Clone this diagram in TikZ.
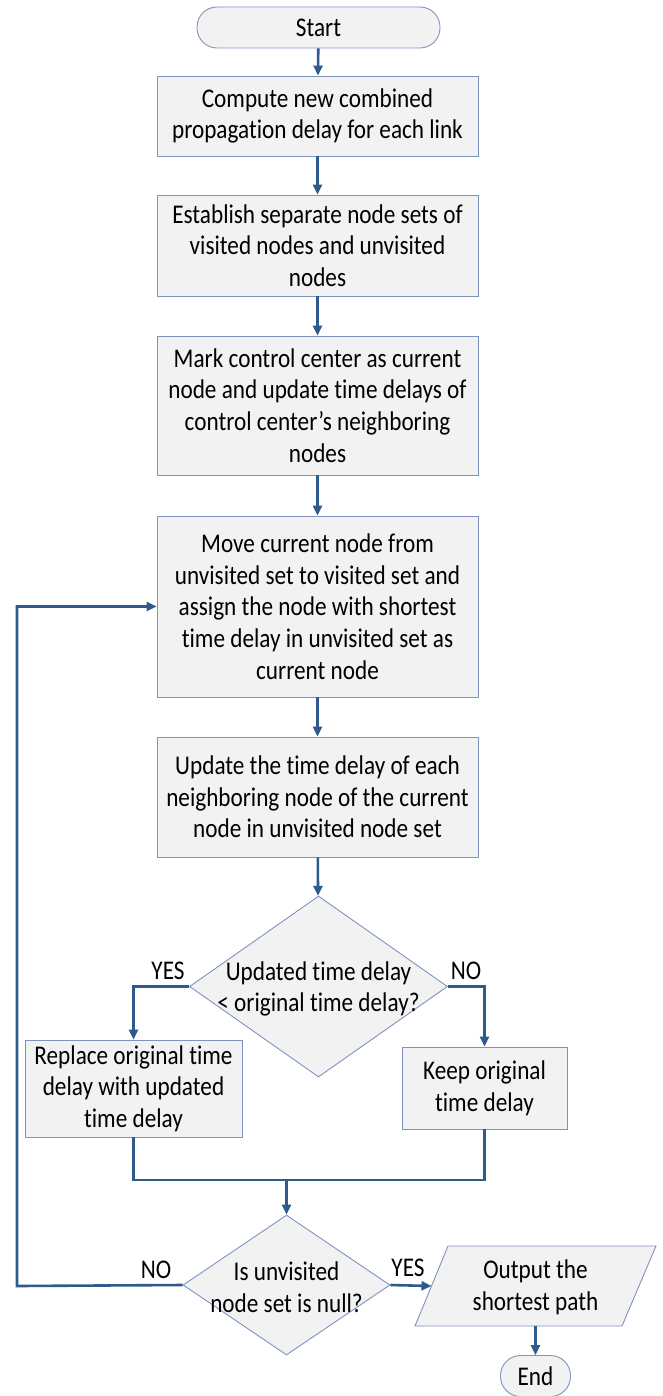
\documentclass[tikz,border=0pt]{standalone}
\usepackage{fontspec}
\setmainfont{Carlito}[FakeStretch=0.86, Ligatures=NoCommon]
\usetikzlibrary{shapes.geometric,arrows.meta}
\definecolor{boxfill}{HTML}{F2F2F2}
\definecolor{boxline}{HTML}{7F93BF}
\definecolor{flow}{HTML}{2E5B8C}
\begin{document}
\begin{tikzpicture}[x=1pt,y=-1pt,
  txt/.style={font=\fontsize{27}{31.7}\selectfont, align=center, text=black},
  proc/.style={txt, draw=boxline, fill=boxfill, line width=0.9pt, inner sep=0, minimum width=321},
  term/.style={proc, rounded corners=20pt},
  dec/.style={diamond, draw=boxline, fill=boxfill, line width=0.9pt, inner sep=0},
  flowline/.style={draw=flow, line width=2.6pt},
  arr/.style={flowline, -{Triangle[length=10pt,width=9pt]}},
]
\useasboundingbox (0,0) rectangle (662,1396);

% process steps
\node[term, minimum width=243, minimum height=41] (start) at (318.5,27.5) {Start};
\node[proc, minimum height=80] (b1) at (317.5,116) {Compute new combined\\propagation delay for each link};
\node[proc, minimum height=101] (b2) at (317.5,245.5) {Establish separate node sets of\\visited nodes and unvisited\\nodes};
\node[proc, minimum height=139] (b3) at (317.5,405.5) {Mark control center as current\\node and update time delays of\\control center’s neighboring\\nodes};
\node[proc, minimum height=181] (b4) at (317.5,606.5) {Move current node from\\unvisited set to visited set and\\assign the node with shortest\\time delay in unvisited set as\\current node};
\node[proc, minimum height=120] (b5) at (317.5,797) {Update the time delay of each\\neighboring node of the current\\node in unvisited node set};

% first decision
\node[dec, minimum width=258, minimum height=181] (d1) at (318.5,986.5) {};
\node[txt] (d1t) at (318.5,989) {Updated time delay\\< original time delay?};
\node[proc, minimum width=217, minimum height=97] (rep) at (133.5,1088.5) {Replace original time\\delay with updated\\time delay};
\node[proc, minimum width=165, minimum height=82] (keep) at (484.5,1088) {Keep original\\time delay};

% second decision
\node[dec, minimum width=207, minimum height=140] (d2) at (286.5,1285) {};
\node[txt] (d2t) at (286.5,1287) {Is unvisited\\node set is null?};

% output parallelogram
\coordinate (o1) at (448,1246);
\coordinate (o2) at (656,1246);
\coordinate (o3) at (622,1326);
\coordinate (o4) at (415,1326);
\draw[draw=boxline, fill=boxfill, line width=0.9pt] (o1) -- (o2) -- (o3) -- (o4) -- cycle;
\node[txt] (out) at (535.5,1287) {Output the\\shortest path};
\coordinate (outW) at (431.5,1286);
\coordinate (outS) at (535.5,1326);
\node[term, minimum width=70, minimum height=41, rounded corners=20pt] (endn) at (535.5,1376) {End};

% branch labels
\node[txt] (yes1) at (168,971) {YES};
\node[txt] (no1) at (466,971) {NO};
\node[txt] (no2) at (156,1270) {NO};
\node[txt] (yes2) at (408,1268) {YES};

% connectors
\draw[arr] (start) -- (b1);
\draw[arr] (b1) -- (b2);
\draw[arr] (b2) -- (b3);
\draw[arr] (b3) -- (b4);
\draw[arr] (b4) -- (b5);
\draw[arr] (b5) -- (d1);
\draw[arr] (d1.west) -| (rep.north);
\draw[arr] (d1.east) -| (keep.north);
\coordinate (mL) at (133.5,1180);
\coordinate (mR) at (484.5,1180);
\coordinate (mC) at (286.5,1180);
\draw[flowline] (rep.south) -- (mL) -- (mR) -- (keep.south);
\draw[arr] (mC) -- (d2.north);
\coordinate (loopB) at (17,1286);
\coordinate (loopT) at (17,606.5);
\draw[arr] (d2.west) -- (loopB) -- (loopT) -- (b4.west);
\draw[arr] (d2.east) -- (outW);
\draw[arr] (outS) -- (endn.north);
\end{tikzpicture}
\end{document}
